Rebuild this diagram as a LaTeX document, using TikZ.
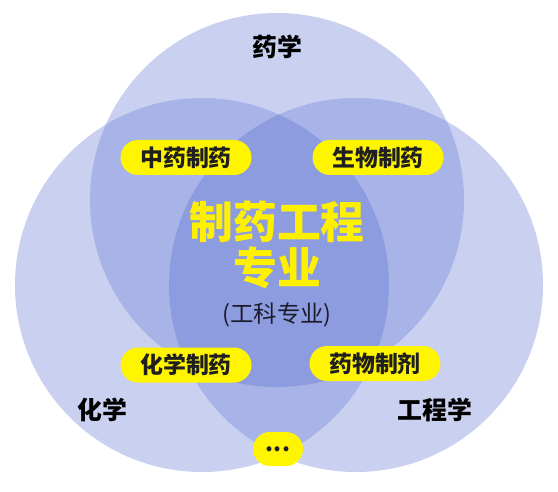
\documentclass[tikz,border=0pt]{standalone}
\usepackage{fontspec}
\setmainfont{Noto Sans CJK SC}[BoldFont={Noto Sans CJK SC Black}]
\definecolor{lightc}{HTML}{C9D0F0}
\definecolor{midc}{HTML}{A8B3E7}
\definecolor{darkc}{HTML}{8D9CDF}
\definecolor{pillc}{HTML}{FFF500}
\definecolor{titlec}{HTML}{FFF000}
\definecolor{subc}{HTML}{1C1C2C}
\tikzset{
  pill/.style={fill=pillc, rounded corners=17.5bp, minimum height=35bp, minimum width=131bp, inner xsep=4bp, inner ysep=0bp,
    font=\fontsize{23}{25}\selectfont\bfseries, text=black!88},
  field/.style={font=\fontsize{25}{27}\selectfont\bfseries, text=black},
  title/.style={font=\fontsize{44}{48}\selectfont\bfseries, text=titlec, align=center},
  subtitle/.style={font=\fontsize{23.5}{26}\selectfont, text=subc},
}
\begin{document}
\begin{tikzpicture}[x=1bp,y=-1bp]
\useasboundingbox (0,0) rectangle (558,492);
\def\R{187}
\coordinate (ct) at (277,200);
\coordinate (cl) at (202,285);
\coordinate (cr) at (356,285);
% single circles
\fill[lightc] (ct) circle (\R);
\fill[lightc] (cl) circle (\R);
\fill[lightc] (cr) circle (\R);
% pairwise overlaps
\begin{scope}
  \clip (ct) circle (\R);
  \fill[midc] (cl) circle (\R);
  \fill[midc] (cr) circle (\R);
\end{scope}
\begin{scope}
  \clip (cl) circle (\R);
  \fill[midc] (cr) circle (\R);
\end{scope}
% triple overlap
\begin{scope}
  \clip (ct) circle (\R);
  \clip (cl) circle (\R);
  \fill[darkc] (cr) circle (\R);
\end{scope}
% labels
\node[field] (yx) at (277,47) {药学};
\node[field] (hx) at (102,410) {化学};
\node[field] (gcx) at (435,410) {工程学};
\node[pill] (zy) at (186,157.5) {中药制药};
\node[pill] (sw) at (378,157.5) {生物制药};
\node[pill] (hxzy) at (186,365) {化学制药};
\node[pill] (ywzj) at (375,363.5) {药物制剂};
\node[pill, minimum width=50bp, minimum height=34bp, rounded corners=17bp] (more) at (278,449) {...};
\node[title] (t1) at (277,222) {制药工程};
\node[title] (t2) at (277,268) {专业};
\node[subtitle] (t3) at (277,315) {(工科专业)};
\end{tikzpicture}
\end{document}
